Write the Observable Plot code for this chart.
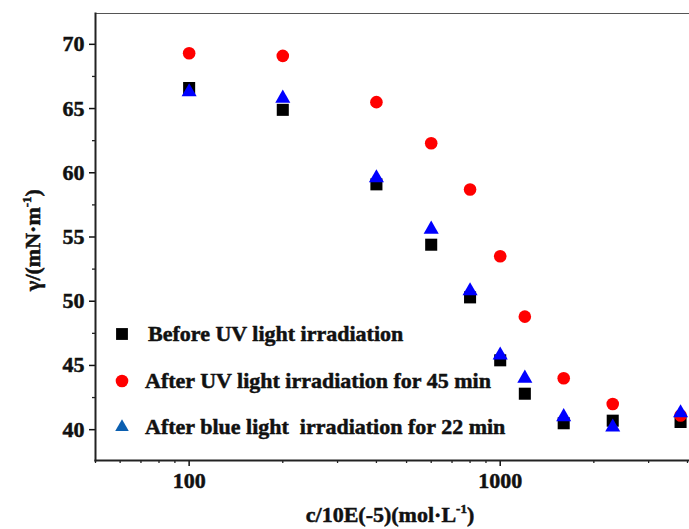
<!DOCTYPE html>
<html><head><meta charset="utf-8">
<script src="https://cdn.jsdelivr.net/npm/d3@7"></script>
<script src="https://cdn.jsdelivr.net/npm/@observablehq/plot@0.6"></script>
<style>
body{margin:0;background:#fff;}
#chart{width:689px;height:529px;}
#chart svg text{font-weight:bold !important;font-family:"Liberation Serif","Times New Roman",serif !important;fill:#111;stroke:#111;stroke-width:0.5px;}
</style></head><body><div id="chart"></div>
<script>
const concentrations = [100, 200, 400, 600, 800, 1000, 1200, 1600, 2300, 3800];
const beforeUV = [66.6, 64.9, 59.1, 54.4, 50.3, 45.4, 42.8, 40.5, 40.7, 40.6];
const afterUV45 = [69.3, 69.1, 65.5, 62.3, 58.7, 53.5, 48.8, 44.0, 42.0, 41.1];
const afterBlue22 = [66.3, 65.8, 59.6, 55.6, 50.8, 45.8, 44.0, 41.0, 40.2, 41.3];
const seriesNames = ["Before UV light irradiation", "After UV light irradiation for 45 min", "After blue light  irradiation for 22 min"];
const yTicks = [40, 45, 50, 55, 60, 65, 70];
const yMinorTicks = [42.5, 47.5, 52.5, 57.5, 62.5, 67.5];
const xMajorTicks = [100, 1000];
const xMinorTicks = [50, 60, 70, 80, 90, 200, 300, 400, 500, 600, 700, 800, 900, 2000, 3000, 4000];
const xDomain = [50, 4060];
const yDomain = [37.6, 72.4];

const rows = (vals) => concentrations.map((c, i) => ({c, g: vals[i]}));
const FONT = "Liberation Serif, Times New Roman, serif";

const plot = Plot.plot({
  width: 689, height: 529,
  marginLeft: 95, marginRight: 0, marginTop: 13, marginBottom: 69,
  style: {fontFamily: FONT, background: "white", overflow: "visible"},
  x: {type: "log", domain: xDomain},
  y: {domain: yDomain},
  marks: [
    Plot.frame({anchor: "top", stroke: "#555", strokeWidth: 1.2}),
    Plot.axisY({ticks: yMinorTicks, tickSize: 3, tickFormat: () => "", label: null, color: "#222", strokeWidth: 1.3}),
    Plot.axisY({ticks: yTicks, tickSize: 6, tickPadding: 5, fontSize: 22, fontWeight: "bold", label: null, color: "#111", strokeWidth: 1.5}),
    Plot.axisX({ticks: xMinorTicks, tickSize: 3, tickFormat: () => "", label: null, color: "#222", strokeWidth: 1.3}),
    Plot.axisX({ticks: xMajorTicks, tickSize: 6, tickPadding: 6, fontSize: 22, fontWeight: "bold", tickFormat: d => String(d), label: null, color: "#111", strokeWidth: 1.5}),
    Plot.frame({anchor: "left", stroke: "#222", strokeWidth: 2}),
    Plot.frame({anchor: "bottom", stroke: "#222", strokeWidth: 2}),
    Plot.dot(rows(beforeUV), {x: "c", y: "g", symbol: "square", r: 6.8, fill: "#000"}),
    Plot.dot(rows(afterUV45), {x: "c", y: "g", symbol: "circle", r: 6.3, fill: "#ff0000"}),
    Plot.dot(rows(afterBlue22), {x: "c", y: "g", symbol: "triangle", r: 5.6, fill: "#0000ff"})
  ]
});
document.getElementById("chart").appendChild(plot);

const svg = d3.select(plot);
// y-axis title
const yt = svg.append("text")
  .attr("transform", "translate(40,240) rotate(-90)")
  .attr("text-anchor", "middle")
  .attr("font-family", FONT).attr("font-size", 22).attr("font-weight", "bold").attr("fill", "#111");
yt.append("tspan").text("γ/(mN·m");
yt.append("tspan").attr("font-size", 13).attr("dy", -9).text("-1");
yt.append("tspan").attr("dy", 9).text(")");
// x-axis title
const xt = svg.append("text")
  .attr("x", 390).attr("y", 522)
  .attr("text-anchor", "middle")
  .attr("font-family", FONT).attr("font-size", 22).attr("font-weight", "bold").attr("fill", "#111");
xt.append("tspan").text("c/10E(-5)(mol·L");
xt.append("tspan").attr("font-size", 13).attr("dy", -9).text("-1");
xt.append("tspan").attr("dy", 9).text(")");

// legend
const legendSymbols = [d3.symbolSquare, d3.symbolCircle, d3.symbolTriangle];
const legendColors = ["#000", "#ff0000", "#0b5fb0"];
const legendSizes = [140, 125, 80];
const legendY = [334, 381, 427];
const legendTextX = [148, 145, 145];
const lg = svg.append("g").attr("text-anchor", "start");
seriesNames.forEach((name, i) => {
  lg.append("path")
    .attr("transform", `translate(122,${legendY[i]})`)
    .attr("d", d3.symbol(legendSymbols[i], legendSizes[i])())
    .attr("fill", legendColors[i]);
  lg.append("text")
    .attr("x", legendTextX[i]).attr("y", legendY[i] + 7)
    .attr("text-anchor", "start")
    .attr("font-family", FONT).attr("font-size", 22).attr("font-weight", "bold").attr("fill", "#111")
    .style("white-space", "pre")
    .text(name);
});
</script></body></html>
